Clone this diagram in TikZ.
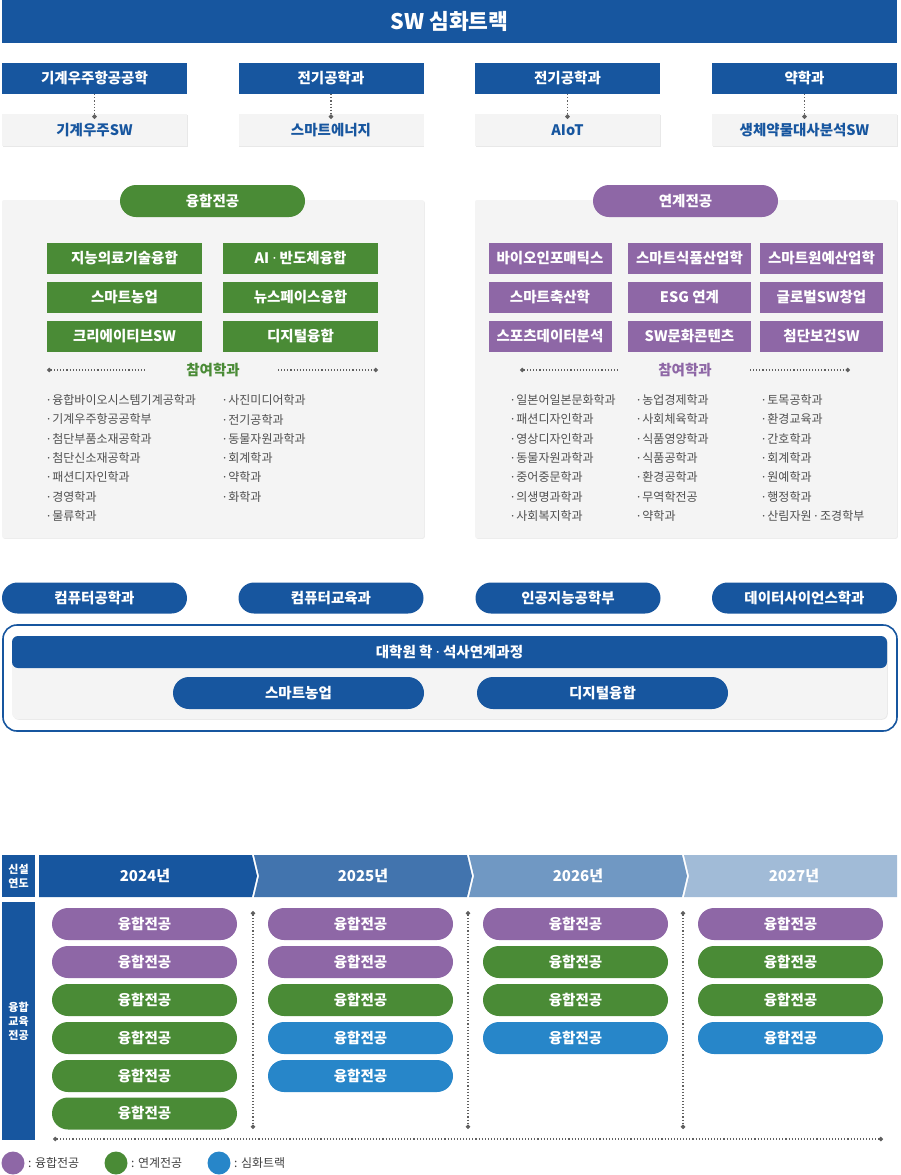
\documentclass[tikz,border=0pt]{standalone}
\usepackage{fontspec}
\setmainfont{Noto Sans CJK KR}
\newfontfamily\dotfont{Noto Sans}
\usepackage{xcolor}
\usetikzlibrary{arrows.meta, shadows}

\definecolor{swblue}{HTML}{17569F}
\definecolor{cgreen}{HTML}{4A8B36}
\definecolor{cpurple}{HTML}{8E67A6}
\definecolor{cblue}{HTML}{2786C9}
\definecolor{panelgray}{HTML}{F4F4F4}
\definecolor{listgray}{HTML}{505050}
\definecolor{yr2}{HTML}{4274AE}
\definecolor{yr3}{HTML}{7098C3}
\definecolor{yr4}{HTML}{A1BBD7}

\newcommand\mdot{{\dotfont ·}}
\newcommand\itm{{\dotfont ·}\,}

\tikzset{dottip/.tip={Circle[length=4.5pt]}}

\begin{document}
\begin{tikzpicture}[
      x=1pt, y=-1pt,
      base/.style={inner sep=0pt, align=center, font=\bfseries\fontsize{14.5}{16}\selectfont},
      hdr/.style={base, fill=swblue, text=white, minimum width=185pt, minimum height=31pt},
      sub/.style={base, fill=panelgray, text=swblue, minimum width=185pt, minimum height=32pt,
                  drop shadow={shadow xshift=0.8pt, shadow yshift=-0.8pt, opacity=0.18}},
      tag/.style={base, text=white, minimum width=185pt, minimum height=32pt, rounded corners=16pt},
      gbox/.style={base, fill=cgreen, text=white, minimum width=155pt, minimum height=31pt},
      pbox/.style={base, fill=cpurple, text=white, minimum width=123pt, minimum height=31pt},
      dept/.style={base, fill=swblue, text=white, minimum width=185pt, minimum height=31pt, rounded corners=15.5pt},
      yp/.style={tag},
      yrtxt/.style={base, text=white, font=\bfseries\fontsize{15}{18}\selectfont},
      side/.style={base, fill=swblue, text=white, minimum width=33pt, font=\bfseries\fontsize{11}{14}\selectfont},
      plist/.style={anchor=west, inner sep=0pt, align=left, text=listgray, font=\fontsize{12}{19.3}\selectfont},
      dotline/.style={draw=gray!75!black, line width=1.1pt, dash pattern=on 1.1pt off 2pt},
      key/.style={circle, minimum size=23pt, inner sep=0pt},
      keytxt/.style={anchor=west, inner sep=0pt, text=black!75, font=\fontsize{12}{14}\selectfont}
    ]
    \useasboundingbox (0,0) rectangle (900,1175);

    % ---- SW 심화트랙: title + 4 departments ----
    \node[base, fill=swblue, text=white, minimum width=895pt, minimum height=43pt,
          font=\bfseries\fontsize{21.5}{24}\selectfont] (title) at (449.5,21.5) {SW 심화트랙};

    \node[hdr] (h1) at (94.5,78.5)  {기계우주항공공학};
    \node[hdr] (h2) at (331,78.5)   {전기공학과};
    \node[hdr] (h3) at (567.5,78.5) {전기공학과};
    \node[hdr] (h4) at (804.5,78.5) {약학과};

    \node[sub] (s1) at (94.5,130)  {기계우주SW};
    \node[sub] (s2) at (331,130)   {스마트에너지};
    \node[sub] (s3) at (567.5,130) {AIoT};
    \node[sub] (s4) at (804.5,130) {생체약물대사분석SW};

    \draw[dotline, -{dottip}] (h1.south) -- ([yshift=-5pt]s1.north);
    \draw[dotline, -{dottip}] (h2.south) -- ([yshift=-5pt]s2.north);
    \draw[dotline, -{dottip}] (h3.south) -- ([yshift=-5pt]s3.north);
    \draw[dotline, -{dottip}] (h4.south) -- ([yshift=-5pt]s4.north);

    % ---- 융합전공 / 연계전공 panels ----
    \fill[panelgray, rounded corners=2pt, drop shadow={shadow xshift=0.8pt, shadow yshift=-0.8pt, opacity=0.15}]
      (2,200) rectangle (424,538);
    \fill[panelgray, rounded corners=2pt, drop shadow={shadow xshift=0.8pt, shadow yshift=-0.8pt, opacity=0.15}]
      (475,200) rectangle (897,538);

    \node[tag, fill=cgreen]  (yung) at (212.5,201) {융합전공};
    \node[tag, fill=cpurple] (yeon) at (685.5,201) {연계전공};

    \node[gbox] (g1) at (124.5,258) {지능의료기술융합};
    \node[gbox] (g2) at (300.5,258) {AI \mdot{} 반도체융합};
    \node[gbox] (g3) at (124.5,297) {스마트농업};
    \node[gbox] (g4) at (300.5,297) {뉴스페이스융합};
    \node[gbox] (g5) at (124.5,336) {크리에이티브SW};
    \node[gbox] (g6) at (300.5,336) {디지털융합};

    \node[pbox] (p1) at (550,258)   {바이오인포매틱스};
    \node[pbox] (p2) at (689.5,258) {스마트식품산업학};
    \node[pbox] (p3) at (821.5,258) {스마트원예산업학};
    \node[pbox] (p4) at (550,297)   {스마트축산학};
    \node[pbox] (p5) at (689.5,297) {ESG 연계};
    \node[pbox] (p6) at (821.5,297) {글로벌SW창업};
    \node[pbox] (p7) at (550,336)   {스포츠데이터분석};
    \node[pbox] (p8) at (689.5,336) {SW문화콘텐츠};
    \node[pbox] (p9) at (821.5,336) {첨단보건SW};

    % 참여학과
    \node[base, text=cgreen]  (gpart) at (213,370) {참여학과};
    \node[base, text=cpurple] (ppart) at (685,370) {참여학과};
    \draw[dotline, {dottip}-] (47,370) -- (147,370);
    \draw[dotline, -{dottip}] (278,370) -- (378,370);
    \draw[dotline, {dottip}-] (520,370) -- (620,370);
    \draw[dotline, -{dottip}] (750,370) -- (850,370);

    \node[plist] (gl1) at (47,458) {\itm 융합바이오시스템기계공학과\\\itm 기계우주항공공학부\\\itm 첨단부품소재공학과\\\itm 첨단신소재공학과\\\itm 패션디자인학과\\\itm 경영학과\\\itm 물류학과};
    \node[plist] (gl2) at (223,448.5) {\itm 사진미디어학과\\\itm 전기공학과\\\itm 동물자원과학과\\\itm 회계학과\\\itm 약학과\\\itm 화학과};
    \node[plist] (pl1) at (511,458) {\itm 일본어일본문화학과\\\itm 패션디자인학과\\\itm 영상디자인학과\\\itm 동물자원과학과\\\itm 중어중문학과\\\itm 의생명과학과\\\itm 사회복지학과};
    \node[plist] (pl2) at (637,458) {\itm 농업경제학과\\\itm 사회체육학과\\\itm 식품영양학과\\\itm 식품공학과\\\itm 환경공학과\\\itm 무역학전공\\\itm 약학과};
    \node[plist] (pl3) at (762,458) {\itm 토목공학과\\\itm 환경교육과\\\itm 간호학과\\\itm 회계학과\\\itm 원예학과\\\itm 행정학과\\\itm 산림자원 \mdot{} 조경학부};

    % ---- 전공 학과 + 학·석사연계과정 ----
    \node[dept] (d1) at (94.5,598)  {컴퓨터공학과};
    \node[dept] (d2) at (331,598)   {컴퓨터교육과};
    \node[dept] (d3) at (568,598)   {인공지능공학부};
    \node[dept] (d4) at (804.5,598) {데이터사이언스학과};

    \draw[swblue, line width=1.6pt, rounded corners=14pt] (3,625) rectangle (897,731);
    \fill[panelgray, rounded corners=6pt, drop shadow={shadow xshift=0.8pt, shadow yshift=-0.8pt, opacity=0.18}]
      (12,636) rectangle (887,719);
    \node[base, fill=swblue, text=white, minimum width=875pt, minimum height=32pt, rounded corners=6pt]
      (grad) at (449.5,652) {대학원 학 \mdot{} 석사연계과정};
    \node[dept, minimum width=251pt, minimum height=32pt, rounded corners=16pt] (gr1) at (298.5,693) {스마트농업};
    \node[dept, minimum width=251pt, minimum height=32pt, rounded corners=16pt] (gr2) at (602.5,693) {디지털융합};

    % ---- 신설 연도 timeline ----
    \node[side, minimum height=42pt]  (yearhd) at (18.5,876)  {신설\\연도};
    \node[side, minimum height=238pt] (majhd)  at (18.5,1021) {융합\\교육\\전공};

    \fill[swblue] (39,855) -- (252,855) -- (257,876) -- (252,897) -- (39,897) -- cycle;
    \fill[yr2] (254,855) -- (467,855) -- (472,876) -- (467,897) -- (254,897) -- (259,876) -- cycle;
    \fill[yr3] (469,855) -- (682,855) -- (687,876) -- (682,897) -- (469,897) -- (474,876) -- cycle;
    \fill[yr4] (684,855) -- (897,855) -- (897,897) -- (684,897) -- (689,876) -- cycle;

    \node[yrtxt] (y24) at (145,876) {2024년};
    \node[yrtxt] (y25) at (363,876) {2025년};
    \node[yrtxt] (y26) at (578,876) {2026년};
    \node[yrtxt] (y27) at (794,876) {2027년};

    % 2024
    \node[yp, fill=cpurple] (a1) at (144.5,924)  {융합전공};
    \node[yp, fill=cpurple] (a2) at (144.5,962)  {융합전공};
    \node[yp, fill=cgreen]  (a3) at (144.5,1000) {융합전공};
    \node[yp, fill=cgreen]  (a4) at (144.5,1038) {융합전공};
    \node[yp, fill=cgreen]  (a5) at (144.5,1076) {융합전공};
    \node[yp, fill=cgreen]  (a6) at (144.5,1113.5) {융합전공};
    % 2025
    \node[yp, fill=cpurple] (b1) at (360.5,924)  {융합전공};
    \node[yp, fill=cpurple] (b2) at (360.5,962)  {융합전공};
    \node[yp, fill=cgreen]  (b3) at (360.5,1000) {융합전공};
    \node[yp, fill=cblue]   (b4) at (360.5,1038) {융합전공};
    \node[yp, fill=cblue]   (b5) at (360.5,1076) {융합전공};
    % 2026
    \node[yp, fill=cpurple] (c1) at (575.5,924)  {융합전공};
    \node[yp, fill=cgreen]  (c2) at (575.5,962)  {융합전공};
    \node[yp, fill=cgreen]  (c3) at (575.5,1000) {융합전공};
    \node[yp, fill=cblue]   (c4) at (575.5,1038) {융합전공};
    % 2027
    \node[yp, fill=cpurple] (e1) at (790.5,924)  {융합전공};
    \node[yp, fill=cgreen]  (e2) at (790.5,962)  {융합전공};
    \node[yp, fill=cgreen]  (e3) at (790.5,1000) {융합전공};
    \node[yp, fill=cblue]   (e4) at (790.5,1038) {융합전공};

    % separators
    \coordinate (sep1t) at (253,911);  \coordinate (sep1b) at (253,1129);
    \coordinate (sep2t) at (468,911);  \coordinate (sep2b) at (468,1129);
    \coordinate (sep3t) at (683,911);  \coordinate (sep3b) at (683,1129);
    \coordinate (baseL) at (53,1139);  \coordinate (baseR) at (883,1139);
    \draw[dotline, {dottip}-{dottip}] (sep1t) -- (sep1b);
    \draw[dotline, {dottip}-{dottip}] (sep2t) -- (sep2b);
    \draw[dotline, {dottip}-{dottip}] (sep3t) -- (sep3b);
    \draw[dotline, {dottip}-{dottip}] (baseL) -- (baseR);

    % ---- legend ----
    \node[key, fill=cpurple] (k1) at (13,1163)  {};
    \node[key, fill=cgreen]  (k2) at (116,1163) {};
    \node[key, fill=cblue]   (k3) at (219,1163) {};
    \node[keytxt] (k1t) at (28,1163)  {: 융합전공};
    \node[keytxt] (k2t) at (131,1163) {: 연계전공};
    \node[keytxt] (k3t) at (234,1163) {: 심화트랙};

    \end{tikzpicture}
\end{document}
